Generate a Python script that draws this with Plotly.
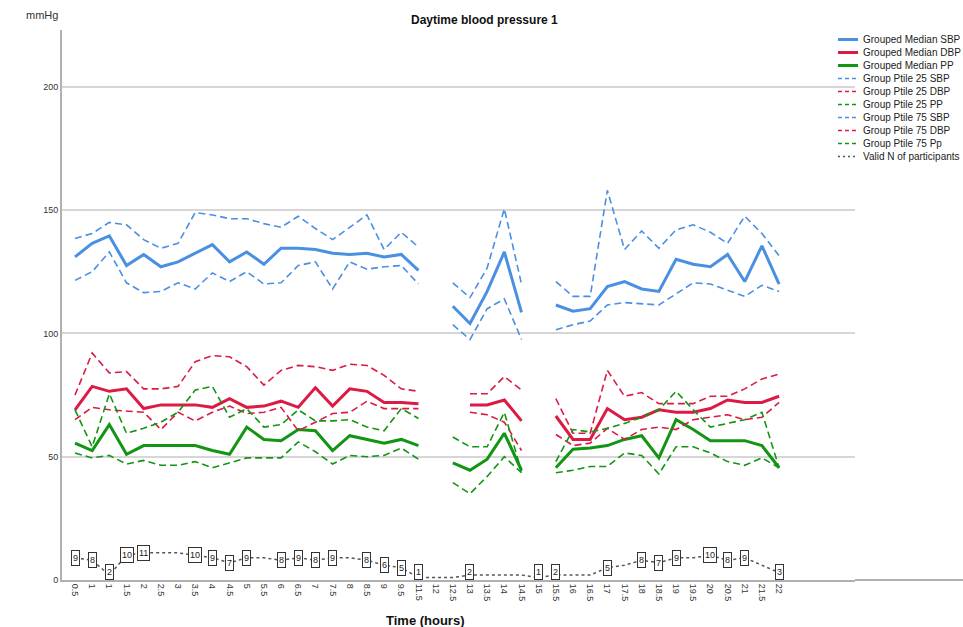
import plotly.graph_objects as go

# Time points (half-hour bins); "1" occurs twice in the source table
time_labels = ["0.5", "1", "1", "1.5", "2", "2.5", "3", "3.5", "4", "4.5", "5", "5.5",
               "6", "6.5", "7", "7.5", "8", "8.5", "9", "9.5", "11.5", "12", "12.5",
               "13", "13.5", "14", "14.5", "15", "15.5", "16", "16.5", "17", "17.5",
               "18", "18.5", "19", "19.5", "20", "20.5", "21", "21.5", "22"]

sbp_median = [131, 136.5, 139.5, 127.5, 132, 127, 129, 132.5, 136, 129, 133, 128, 134.5, 134.5,
              134, 132.5, 132, 132.5, 131, 132, 125.5, None, 111, 104, 117, 133, 108.5, None,
              111.5, 109, 110, 119, 121, 118, 117, 130, 128, 127, 132, 121, 135.5, 120]
dbp_median = [69, 78.5, 76.5, 77.5, 69.5, 71, 71, 71, 70, 73.5, 70, 70.5, 72.5, 70,
              78, 70.5, 77.5, 76.5, 72, 72, 71.5, None, None, 71, 71, 73, 64.5, None,
              66.5, 57, 57, 69.5, 65, 66, 69, 68, 68, 69.5, 73, 72, 72, 74.5]
pp_median = [55.5, 52.5, 63, 51, 54.5, 54.5, 54.5, 54.5, 52.5, 51, 62, 57, 56.5, 61,
             60.5, 52.5, 58.5, 57, 55.5, 57, 54.5, None, 47.5, 44.5, 49, 59.5, 44.5, None,
             45.5, 53, 53.5, 54.5, 57, 58.5, 49.5, 65, 61, 56.5, 56.5, 56.5, 54.5, 45.5]
sbp_p25 = [121.5, 125, 133, 120.5, 116.5, 117, 120.5, 118, 124.5, 121, 125, 120, 120.5, 127.5,
           129, 118, 129, 126, 127, 127.5, 120, None, 103.5, 97.5, 110, 114, 97.5, None,
           101.5, 103.5, 105, 111.5, 112.5, 112, 111.5, 116, 120.5, 120, 117.5, 115, 119.5, 117]
dbp_p25 = [65, 70, 69, 68.5, 68, 61, 68, 64.5, 68, 70.5, 67.5, 68, 70, 60.5,
           64, 67.5, 68, 72.5, 69.5, 69.5, 69.5, None, None, 68, 67, 64, 52.5, None,
           59, 54.5, 55.5, 61.5, 57, 61, 62, 61, 65, 66, 67, 65, 66, 72]
pp_p25 = [51.5, 49.5, 50.5, 47, 48.5, 46.5, 46.5, 48, 45.5, 47.5, 49.5, 49.5, 49.5, 56,
          52, 47, 50.5, 50, 50.5, 53.5, 49, None, 39.5, 35, 42, 50, 43.5, None,
          43.5, 44.5, 46, 46, 51.5, 50.5, 43, 54, 54, 51.5, 48, 46.5, 49.5, 45.5]
sbp_p75 = [138.5, 140.5, 145, 144, 138, 134.5, 136.5, 149, 148, 146.5, 146.5, 144.5, 143, 147.5,
           142.5, 138, 143, 148, 134, 141, 135, None, 120.5, 114.5, 126.5, 150.5, 120, None,
           121, 115, 115, 158, 134, 141.5, 134.5, 142, 144, 141, 136.5, 147.5, 140.5, 131.5]
dbp_p75 = [75, 92, 84, 84.5, 77.5, 77.5, 78.5, 88.5, 91, 90.5, 86.5, 79, 85, 87,
           86.5, 85, 87.5, 87, 83, 77.5, 76.5, None, None, 75.5, 75.5, 82.5, 77, None,
           73.5, 59.5, 59.5, 85, 74.5, 76, 71.5, 71.5, 71.5, 74.5, 74.5, 77.5, 81.5, 83.5]
pp_p75 = [69, 54, 75.5, 59.5, 61.5, 64, 68, 77, 78.5, 66, 69.5, 62, 63, 69,
          64.5, 64.5, 65, 62, 60.5, 69.5, 65.5, None, 58, 54, 54, 68, 44, None,
          48, 61, 60, 61.5, 63.5, 66, 69, 76.5, 69, 62, 63.5, 65, 68, 45.5]

valid_n = [9, 8, 2, 10, 11, 11, 11, 10, 9, 7, 9, 9, 8, 9, 8, 9, 9, 8, 6, 5, 1,
           1, 1, 2, 2, 2, 2, 1, 2, 2, 2, 5, 6, 8, 7, 9, 9, 10, 8, 9, 6, 3]
n_labelled = [1, 1, 1, 1, 1, 0, 0, 1, 1, 1, 1, 0, 1, 1, 1, 1, 0, 1, 1, 1, 1,
              0, 0, 1, 0, 0, 0, 1, 1, 0, 0, 1, 0, 1, 1, 1, 0, 1, 1, 1, 0, 1]

BLUE = "#4a90e2"
RED = "#dc1a44"
GREEN = "#129512"
GREY = "#555555"
FONT = "Arial, Liberation Sans, sans-serif"
DASH = "7px,4px"

# plot area in pixels (used for legend / label placement in paper units)
PL, PR, PT, PB = 62, 855, 30, 580
W, H = 963, 627
Y_MAX = 223
PX_PER_UNIT = (PB - PT) / Y_MAX


def px_to_paper(px, py):
    return (px - PL) / (PR - PL), (PB - py) / (PB - PT)


x = list(range(len(time_labels)))

fig = go.Figure()

series = [
    ("Grouped Median SBP", sbp_median, BLUE, "solid", 3),
    ("Grouped Median DBP", dbp_median, RED, "solid", 3),
    ("Grouped Median PP", pp_median, GREEN, "solid", 3),
    ("Group Ptile 25 SBP", sbp_p25, BLUE, DASH, 1.6),
    ("Group Ptile 25 DBP", dbp_p25, RED, DASH, 1.6),
    ("Group Ptile 25 PP", pp_p25, GREEN, DASH, 1.6),
    ("Group Ptile 75 SBP", sbp_p75, BLUE, DASH, 1.6),
    ("Group Ptile 75 DBP", dbp_p75, RED, DASH, 1.6),
    ("Group Ptile 75 Pp", pp_p75, GREEN, DASH, 1.6),
    ("Valid N of participants", valid_n, GREY, "dot", 1.5),
]
for name, ys, color, dash, width in series:
    fig.add_trace(go.Scatter(
        x=x, y=ys, name=name, mode="lines", connectgaps=False, showlegend=False,
        line=dict(color=color, dash=dash, width=width),
    ))

# Compact legend: a line sample and a label per series
for i, (name, ys, color, dash, width) in enumerate(series):
    yy = 39.5 + 13 * i
    x0, y0 = px_to_paper(838, yy)
    x1, _ = px_to_paper(858, yy)
    fig.add_shape(type="line", xref="paper", yref="paper", x0=x0, x1=x1, y0=y0, y1=y0,
                  line=dict(color=color, width=width if width > 2 else 1.6,
                            dash="4px,3px" if dash == DASH else ("2px,3px" if dash == "dot" else "solid")))
    tx, _ = px_to_paper(861, yy)
    fig.add_annotation(xref="paper", yref="paper", x=tx, y=y0, xanchor="left", yanchor="middle",
                       text=name, showarrow=False,
                       font=dict(family=FONT, size=10, color="#222222"))

# Boxed participant counts (small counts are lifted so the box rests on the baseline)
for xi, n, show in zip(x, valid_n, n_labelled):
    if show:
        fig.add_annotation(
            x=xi, y=n, text=str(n), showarrow=False, height=12,
            yshift=max(0.0, 8 - n * PX_PER_UNIT),
            font=dict(family=FONT, size=9, color="#222222"),
            bgcolor="white", bordercolor="#333333", borderwidth=1, borderpad=1,
        )

mx, my = px_to_paper(24, 15)
fig.add_annotation(
    xref="paper", yref="paper", x=mx, y=my, xanchor="left", yanchor="middle",
    text="mmHg", showarrow=False, font=dict(family=FONT, size=11, color="#333333"),
)
tx, ty = px_to_paper(425, 620)
fig.add_annotation(
    xref="paper", yref="paper", x=tx, y=ty, xanchor="center", yanchor="middle",
    text="<b>Time (hours)</b>", showarrow=False, font=dict(family=FONT, size=13, color="#111111"),
)

# baseline continues under the legend column
ex, _ = px_to_paper(W, PB)
fig.add_shape(type="line", xref="paper", yref="paper", x0=1, x1=ex, y0=0, y1=0,
              line=dict(color="#b0b0b0", width=2))

fig.update_layout(
    width=W, height=H,
    margin=dict(l=PL, r=W - PR, t=PT, b=H - PB),
    paper_bgcolor="white", plot_bgcolor="white",
    showlegend=False,
    title=dict(text="<b>Daytime blood pressure 1</b>", x=0.503, xref="container", xanchor="center",
               y=0.968, yref="container", yanchor="middle",
               font=dict(family=FONT, size=12, color="#111111")),
    font=dict(family=FONT, color="#333333"),
    xaxis=dict(
        range=[-0.757, 45.42], tickmode="array", tickvals=x, ticktext=time_labels,
        tickangle=90, tickfont=dict(family=FONT, size=9, color="#333333"),
        showgrid=False, zeroline=False, showline=True, linecolor="#b0b0b0", linewidth=2,
        ticks="", fixedrange=True,
    ),
    yaxis=dict(
        range=[0, Y_MAX], tickvals=[0, 50, 100, 150, 200],
        tickfont=dict(family=FONT, size=9, color="#333333"),
        showgrid=True, gridcolor="#d6d6d6", gridwidth=1.5, zeroline=False,
        showline=True, linecolor="#b0b0b0", linewidth=2, ticks="",
    ),
)

fig.write_html("out.html")
